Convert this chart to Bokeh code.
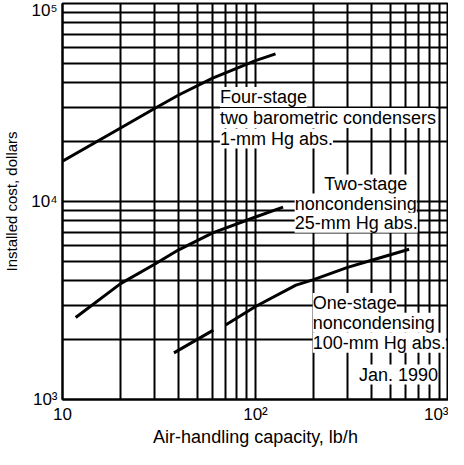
from bokeh.plotting import figure
from bokeh.models import Label, FixedTicker
from bokeh.embed import file_html
from bokeh.resources import INLINE

nan = float("nan")

# Four-stage, two barometric condensers, 1-mm Hg abs.
four_x = [10, 20, 30, 40, 60, 100, 127]
four_y = [16000, 23500, 29500, 34500, 42000, 51500, 55700]

# Two-stage noncondensing, 25-mm Hg abs.
two_x = [11.7, 20, 30, 40, 60, 100, 139]
two_y = [2595, 3850, 4820, 5700, 6950, 8350, 9370]

# One-stage noncondensing, 100-mm Hg abs. (small break in the drawn curve)
one_x = [37.8, 60.5, nan, 70, 100, 162, 200, 300, 400, 500, 625]
one_y = [1720, 2240, nan, 2380, 2950, 3780, 4030, 4650, 5050, 5380, 5740]

x_major = [10, 100, 1000]
y_major = [1000, 10000, 100000]
mantissas = [2, 3, 4, 5, 6, 7, 8, 9]
x_tick_labels = {10: "10", 100: "10²", 1000: "10³"}
y_tick_labels = {1000: "10³", 10000: "10⁴", 100000: "10⁵"}
x_title = "Air-handling capacity, lb/h"
y_title = "Installed cost, dollars"

FONT = "Liberation Sans"

p = figure(width=448, height=449, x_axis_type="log", y_axis_type="log",
           x_range=(10, 1000), y_range=(1000, 100000),
           output_backend="svg", toolbar_location=None,
           min_border_left=50, min_border_right=0, min_border_top=3, min_border_bottom=36)

x_minor = [m * d for d in x_major[:-1] for m in mantissas]
y_minor = [m * d for d in y_major[:-1] for m in mantissas]
p.xaxis.ticker = FixedTicker(ticks=x_major, minor_ticks=x_minor)
p.yaxis.ticker = FixedTicker(ticks=y_major, minor_ticks=y_minor)
p.xgrid.ticker = p.xaxis.ticker
p.ygrid.ticker = p.yaxis.ticker

p.background_fill_color = "white"
p.border_fill_color = "white"
p.outline_line_color = "black"
p.outline_line_width = 2

for g in (p.xgrid, p.ygrid):
    g.grid_line_color = "black"
    g.grid_line_width = 2
    g.minor_grid_line_color = "black"
    g.minor_grid_line_width = 2

for ax in (p.xaxis, p.yaxis):
    ax.axis_line_color = "black"
    ax.axis_line_width = 2
    ax.major_tick_line_color = None
    ax.minor_tick_line_color = None
    ax.major_tick_out = 0
    ax.minor_tick_out = 0
    ax.major_tick_in = 0
    ax.minor_tick_in = 0
    ax.major_label_text_font = FONT
    ax.major_label_text_font_size = "17px"
    ax.major_label_text_color = "black"
    ax.major_label_text_line_height = 1.0
    ax.axis_label_text_font = FONT
    ax.axis_label_text_font_style = "normal"
    ax.axis_label_text_color = "black"
    ax.axis_label_text_line_height = 1.0

p.xaxis.axis_label_text_font_size = "18px"
p.yaxis.axis_label_text_font_size = "15px"
p.xaxis.major_label_overrides = x_tick_labels
p.yaxis.major_label_overrides = y_tick_labels
p.xaxis.axis_label = x_title
p.yaxis.axis_label = y_title
p.xaxis.major_label_standoff = 5
p.xaxis.axis_label_standoff = 0
p.yaxis.major_label_standoff = 5
p.yaxis.axis_label_standoff = 8

p.line(four_x, four_y, line_color="black", line_width=3)
p.line(two_x, two_y, line_color="black", line_width=3)
p.line(one_x, one_y, line_color="black", line_width=3)

labels = [
    ("Four-stage", 65.4, 33700),
    ("two barometric condensers", 65.4, 26400),
    ("1-mm Hg abs.", 65.4, 20800),
    ("Two-stage", 227, 12200),
    ("noncondensing", 159.5, 9770),
    ("25-mm Hg abs.", 159.5, 7800),
    ("One-stage", 198, 3070),
    ("noncondensing", 198, 2440),
    ("100-mm Hg abs.", 198, 1932),
    ("Jan. 1990", 343.6, 1336),
]
for txt, lx, ly in labels:
    p.add_layout(Label(x=lx, y=ly, text=txt, text_align="left", text_baseline="middle",
                       text_font=FONT, text_font_size="18px", text_color="black",
                       text_line_height=0.9, background_fill_color="white"))

open("out.html", "w").write(file_html(p, INLINE))
